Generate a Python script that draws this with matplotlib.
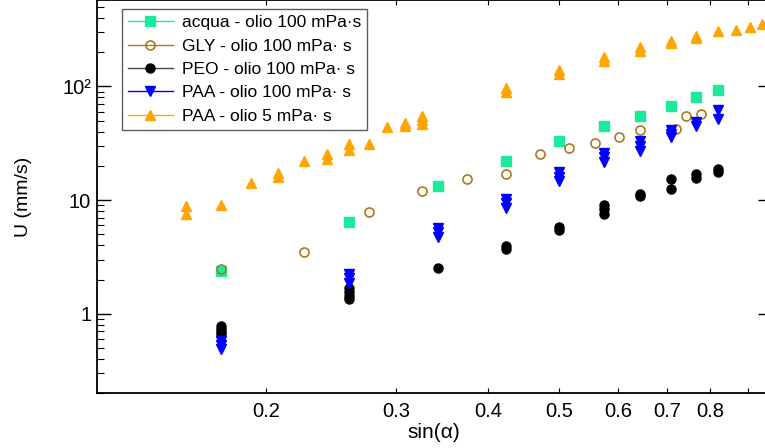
import matplotlib
matplotlib.use('Agg')
import matplotlib.pyplot as plt
from matplotlib.lines import Line2D
from matplotlib.ticker import FixedLocator, NullLocator, NullFormatter

plt.rcParams['font.family'] = ['Liberation Sans', 'DejaVu Sans']

# sin(alpha) and U (mm/s) for each series
acqua_x = [0.174, 0.259, 0.342, 0.423, 0.500, 0.574, 0.643, 0.707, 0.766, 0.819]
acqua_u = [2.4, 6.4, 13.2, 22.0, 32.8, 45.0, 54.8, 67.1, 81.1, 92.2]

gly_x = [0.174, 0.225, 0.276, 0.326, 0.375, 0.423, 0.470, 0.515, 0.559, 0.602,
         0.643, 0.719, 0.743, 0.777]
gly_u = [2.49, 3.49, 7.9, 12.0, 15.3, 16.9, 25.7, 29.0, 31.9, 36.0,
         41.0, 42.4, 55.5, 57.0]

peo_x = [0.174, 0.174, 0.174, 0.174, 0.259, 0.259, 0.259, 0.259, 0.342,
         0.423, 0.423, 0.500, 0.500, 0.574, 0.574, 0.574, 0.643, 0.643,
         0.707, 0.707, 0.766, 0.766, 0.819, 0.819]
peo_u = [0.78, 0.73, 0.69, 0.66, 1.69, 1.56, 1.44, 1.34, 2.51,
         3.95, 3.69, 5.80, 5.42, 9.06, 8.3, 7.5, 11.4, 10.8,
         15.2, 12.6, 17.1, 15.6, 18.9, 17.7]

paa100_x = [0.174, 0.174, 0.174, 0.259, 0.259, 0.259, 0.342, 0.342, 0.342,
            0.423, 0.423, 0.423, 0.500, 0.500, 0.500, 0.574, 0.574, 0.574,
            0.643, 0.643, 0.643, 0.707, 0.707, 0.707, 0.766, 0.766, 0.819, 0.819]
paa100_u = [0.574, 0.537, 0.495, 2.25, 2.05, 1.88, 5.72, 5.28, 4.74,
            10.2, 9.38, 8.59, 17.5, 16.1, 14.8, 26.2, 24.0, 21.8,
            33.2, 30.0, 27.1, 41.2, 38.0, 35.6, 48.2, 45.0, 61.8, 51.5]

paa5_x = [0.156, 0.156, 0.174, 0.191, 0.208, 0.208, 0.225, 0.242, 0.242,
          0.259, 0.259, 0.276, 0.292, 0.309, 0.309, 0.326, 0.326, 0.326,
          0.423, 0.423, 0.500, 0.500, 0.574, 0.574, 0.643, 0.643,
          0.707, 0.707, 0.766, 0.766, 0.819, 0.866, 0.906, 0.940]
paa5_u = [8.8, 7.5, 9.0, 14.2, 17.3, 16.0, 22.3, 25.3, 23.1,
          31.0, 27.7, 31.0, 44.1, 47.9, 44.7, 54.8, 50.5, 46.6,
          96.0, 88.5, 139.0, 128.0, 182.0, 166.0, 221.0, 203.0,
          253.0, 239.0, 279.0, 265.0, 305.0, 316.0, 336.0, 354.0]

labels = ['acqua - olio 100 mPa\u00b7s', 'GLY - olio 100 mPa\u00b7 s',
          'PEO - olio 100 mPa\u00b7 s', 'PAA - olio 100 mPa\u00b7 s',
          'PAA - olio 5 mPa\u00b7 s']

x_ticks = [0.2, 0.3, 0.4, 0.5, 0.6, 0.7, 0.8, 0.9]
x_ticklabels = ['0.2', '0.3', '0.4', '0.5', '0.6', '0.7', '0.8', '']
y_ticks = [1, 10, 100]
y_ticklabels = ['1', '10', '10\u00b2']

green = '#1de99b'
brown = '#b0761e'
orange = '#ffa500'
blue = '#0000ff'

fig = plt.figure(figsize=(7.65, 4.48), dpi=100)
ax = fig.add_axes([0.1264, 0.1221, 0.8826, 0.8768])

ms = 6.5
series = [
    (acqua_x, acqua_u, dict(marker='s', color=green, mfc=green, mec=green), green),
    (gly_x, gly_u, dict(marker='o', color=brown, mfc='none', mec=brown, mew=1.2), brown),
    (peo_x, peo_u, dict(marker='o', color='black', mfc='black', mec='black'), '#444444'),
    (paa100_x, paa100_u, dict(marker='v', color=blue, mfc=blue, mec=blue), blue),
    (paa5_x, paa5_u, dict(marker='^', color=orange, mfc=orange, mec=orange), orange),
]

handles = []
for (xs, us, st, lc), lab in zip(series, labels):
    ax.plot(xs, us, ls='none', ms=ms, **st)
    hst = dict(st)
    hst['color'] = lc
    handles.append(Line2D([], [], ls='-', lw=1.0, ms=ms, **hst))

ax.set_xscale('log')
ax.set_yscale('log')
ax.set_xlim(0.118, 0.970)
ax.set_ylim(0.2, 570)

ax.xaxis.set_major_locator(FixedLocator(x_ticks))
ax.set_xticklabels(x_ticklabels)
ax.xaxis.set_minor_locator(NullLocator())
ax.xaxis.set_minor_formatter(NullFormatter())

ax.yaxis.set_major_locator(FixedLocator(y_ticks))
ax.set_yticklabels(y_ticklabels)
minor_y = [v * d for d in (0.1, 1, 10, 100) for v in range(2, 10)]
ax.yaxis.set_minor_locator(FixedLocator(minor_y))
ax.yaxis.set_minor_formatter(NullFormatter())

ax.tick_params(axis='x', which='major', direction='in', length=3.5, width=0.8,
               top=True, labelsize=14.5, pad=6)
ax.tick_params(axis='y', which='major', direction='in', length=10, width=1.0,
               right=True, labelsize=14.5, pad=4)
ax.tick_params(axis='y', which='minor', direction='in', length=5, width=0.8,
               right=True)
for s in ax.spines.values():
    s.set_linewidth(1.3)

ax.set_xlabel('sin(\u03b1)', fontsize=15, labelpad=2)
ax.set_ylabel('U (mm/s)', fontsize=14, labelpad=22)

leg = ax.legend(handles, labels, loc='upper left', bbox_to_anchor=(0.037, 0.978),
                borderaxespad=0, fontsize=12.5, frameon=True, fancybox=False,
                handlelength=2.6, handletextpad=0.5, labelspacing=0.47,
                borderpad=0.35)
leg.get_frame().set_edgecolor('#333333')
leg.get_frame().set_linewidth(1.0)

fig.savefig('out.png', dpi=100)
